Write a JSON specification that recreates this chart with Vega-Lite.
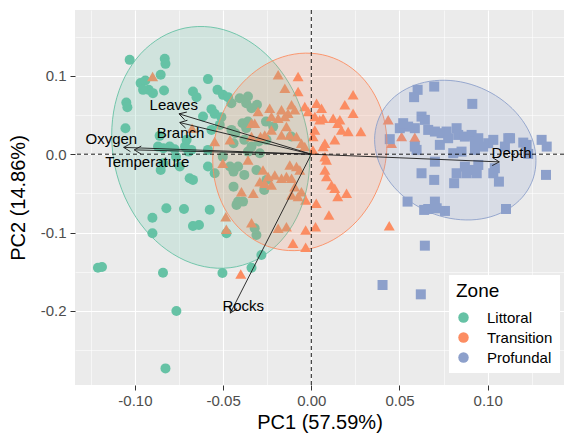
{
  "$schema": "https://vega.github.io/schema/vega-lite/v6.json",
  "width": 489,
  "height": 375,
  "autosize": {"type": "none"},
  "padding": {"left": 75, "top": 10, "right": 0, "bottom": 53},
  "background": "white",
  "config": {
    "font": "Liberation Sans",
    "view": {"fill": "#EBEBEB", "stroke": null},
    "axis": {"domain": false, "tickColor": "#333333", "tickWidth": 1, "labelColor": "#4D4D4D", "labelFontSize": 15, "titleFontSize": 20, "titleFontWeight": "normal", "titleColor": "#000000", "gridColor": "#FFFFFF"}
  },
  "datasets": {
    "points": [
      {"PC1":-0.1030,"PC2":0.1204,"Zone":"Littoral"},{"PC1":-0.0831,"PC2":0.1217,"Zone":"Littoral"},{"PC1":-0.0827,"PC2":0.1153,"Zone":"Littoral"},{"PC1":-0.0854,"PC2":0.1013,"Zone":"Littoral"},{"PC1":-0.0968,"PC2":0.0907,"Zone":"Littoral"},{"PC1":-0.0941,"PC2":0.0940,"Zone":"Littoral"},{"PC1":-0.0922,"PC2":0.0821,"Zone":"Littoral"},{"PC1":-0.0898,"PC2":0.0779,"Zone":"Littoral"},{"PC1":-0.0835,"PC2":0.0812,"Zone":"Littoral"},{"PC1":-0.0586,"PC2":0.0958,"Zone":"Littoral"},
      {"PC1":-0.0532,"PC2":0.0821,"Zone":"Littoral"},{"PC1":-0.0501,"PC2":0.0757,"Zone":"Littoral"},{"PC1":-0.0472,"PC2":0.0728,"Zone":"Littoral"},{"PC1":-0.0453,"PC2":0.0651,"Zone":"Littoral"},{"PC1":-0.0671,"PC2":0.0799,"Zone":"Littoral"},{"PC1":-0.0651,"PC2":0.0728,"Zone":"Littoral"},{"PC1":-0.1049,"PC2":0.0659,"Zone":"Littoral"},{"PC1":-0.1043,"PC2":0.0600,"Zone":"Littoral"},{"PC1":-0.0566,"PC2":0.0575,"Zone":"Littoral"},{"PC1":-0.0548,"PC2":0.0515,"Zone":"Littoral"},
      {"PC1":-0.0510,"PC2":0.0473,"Zone":"Littoral"},{"PC1":-0.0614,"PC2":0.0480,"Zone":"Littoral"},{"PC1":-0.1054,"PC2":0.0332,"Zone":"Littoral"},{"PC1":-0.0519,"PC2":0.0374,"Zone":"Littoral"},{"PC1":-0.0566,"PC2":0.0310,"Zone":"Littoral"},{"PC1":-0.0453,"PC2":0.0310,"Zone":"Littoral"},{"PC1":-0.0860,"PC2":0.0234,"Zone":"Littoral"},{"PC1":-0.0803,"PC2":0.0097,"Zone":"Littoral"},{"PC1":-0.0775,"PC2":0.0064,"Zone":"Littoral"},{"PC1":-0.0680,"PC2":0.0055,"Zone":"Littoral"},
      {"PC1":-0.0586,"PC2":0.0055,"Zone":"Littoral"},{"PC1":-0.0854,"PC2":-0.0201,"Zone":"Littoral"},{"PC1":-0.0746,"PC2":-0.0158,"Zone":"Littoral"},{"PC1":-0.0690,"PC2":-0.0307,"Zone":"Littoral"},{"PC1":-0.0671,"PC2":-0.0328,"Zone":"Littoral"},{"PC1":-0.0586,"PC2":-0.0158,"Zone":"Littoral"},{"PC1":-0.0548,"PC2":-0.0243,"Zone":"Littoral"},{"PC1":-0.0415,"PC2":-0.0158,"Zone":"Littoral"},{"PC1":-0.0822,"PC2":-0.0690,"Zone":"Littoral"},{"PC1":-0.0722,"PC2":-0.0699,"Zone":"Littoral"},
      {"PC1":-0.0576,"PC2":-0.0708,"Zone":"Littoral"},{"PC1":-0.0901,"PC2":-0.0810,"Zone":"Littoral"},{"PC1":-0.0671,"PC2":-0.0916,"Zone":"Littoral"},{"PC1":-0.0637,"PC2":-0.0903,"Zone":"Littoral"},{"PC1":-0.0901,"PC2":-0.1009,"Zone":"Littoral"},{"PC1":-0.0481,"PC2":-0.1009,"Zone":"Littoral"},{"PC1":-0.1210,"PC2":-0.1448,"Zone":"Littoral"},{"PC1":-0.1187,"PC2":-0.1439,"Zone":"Littoral"},{"PC1":-0.0841,"PC2":-0.1512,"Zone":"Littoral"},{"PC1":-0.0504,"PC2":-0.1516,"Zone":"Littoral"},
      {"PC1":-0.0765,"PC2":-0.2001,"Zone":"Littoral"},{"PC1":-0.0827,"PC2":-0.2733,"Zone":"Littoral"},{"PC1":-0.0424,"PC2":-0.0647,"Zone":"Littoral"},{"PC1":-0.0415,"PC2":-0.0605,"Zone":"Littoral"},{"PC1":-0.0387,"PC2":-0.0605,"Zone":"Littoral"},{"PC1":-0.0321,"PC2":-0.0945,"Zone":"Littoral"},{"PC1":-0.0311,"PC2":-0.1031,"Zone":"Littoral"},{"PC1":-0.0283,"PC2":-0.1286,"Zone":"Littoral"},{"PC1":-0.0339,"PC2":-0.1448,"Zone":"Littoral"},{"PC1":-0.0359,"PC2":0.0736,"Zone":"Littoral"},
      {"PC1":-0.0369,"PC2":0.0651,"Zone":"Littoral"},{"PC1":-0.0339,"PC2":0.0587,"Zone":"Littoral"},{"PC1":-0.0308,"PC2":0.0630,"Zone":"Littoral"},{"PC1":-0.0390,"PC2":0.0396,"Zone":"Littoral"},{"PC1":-0.0359,"PC2":0.0416,"Zone":"Littoral"},{"PC1":-0.0369,"PC2":0.0332,"Zone":"Littoral"},{"PC1":-0.0257,"PC2":0.0416,"Zone":"Littoral"},{"PC1":-0.0216,"PC2":0.0352,"Zone":"Littoral"},{"PC1":-0.0431,"PC2":0.0268,"Zone":"Littoral"},{"PC1":-0.0441,"PC2":0.0140,"Zone":"Littoral"},
      {"PC1":-0.0380,"PC2":0.0183,"Zone":"Littoral"},{"PC1":-0.0339,"PC2":0.0097,"Zone":"Littoral"},{"PC1":-0.0298,"PC2":0.0161,"Zone":"Littoral"},{"PC1":-0.0359,"PC2":0.0033,"Zone":"Littoral"},{"PC1":-0.0114,"PC2":0.0225,"Zone":"Littoral"},{"PC1":-0.0502,"PC2":-0.0031,"Zone":"Littoral"},{"PC1":-0.0461,"PC2":-0.0158,"Zone":"Littoral"},{"PC1":-0.0441,"PC2":-0.0222,"Zone":"Littoral"},{"PC1":-0.0380,"PC2":-0.0264,"Zone":"Littoral"},{"PC1":-0.0441,"PC2":-0.0414,"Zone":"Littoral"},
      {"PC1":-0.0267,"PC2":-0.0456,"Zone":"Littoral"},{"PC1":-0.0869,"PC2":0.0097,"Zone":"Littoral"},{"PC1":-0.0839,"PC2":0.0077,"Zone":"Littoral"},{"PC1":-0.0716,"PC2":0.0097,"Zone":"Littoral"},{"PC1":-0.0696,"PC2":0.0033,"Zone":"Littoral"},{"PC1":-0.0839,"PC2":-0.0115,"Zone":"Littoral"},{"PC1":-0.0767,"PC2":-0.0031,"Zone":"Littoral"},{"PC1":-0.0707,"PC2":0.0183,"Zone":"Littoral"},{"PC1":-0.0406,"PC2":0.0715,"Zone":"Littoral"},{"PC1":-0.0254,"PC2":0.0183,"Zone":"Littoral"},
      {"PC1":-0.0292,"PC2":0.0013,"Zone":"Littoral"},{"PC1":-0.0311,"PC2":-0.0201,"Zone":"Littoral"},{"PC1":-0.0254,"PC2":-0.0328,"Zone":"Littoral"},{"PC1":-0.0954,"PC2":0.0821,"Zone":"Littoral"},
      {"PC1":-0.0900,"PC2":0.0991,"Zone":"Transition"},{"PC1":-0.0188,"PC2":0.1013,"Zone":"Transition"},{"PC1":-0.0075,"PC2":0.0991,"Zone":"Transition"},{"PC1":-0.0150,"PC2":0.0843,"Zone":"Transition"},{"PC1":-0.0075,"PC2":0.0799,"Zone":"Transition"},{"PC1":0.0237,"PC2":0.0757,"Zone":"Transition"},{"PC1":0.0030,"PC2":0.0651,"Zone":"Transition"},{"PC1":0.0058,"PC2":0.0587,"Zone":"Transition"},{"PC1":-0.0037,"PC2":0.0608,"Zone":"Transition"},{"PC1":-0.0018,"PC2":0.0544,"Zone":"Transition"},
      {"PC1":-0.0112,"PC2":0.0630,"Zone":"Transition"},{"PC1":-0.0094,"PC2":0.0566,"Zone":"Transition"},{"PC1":-0.0132,"PC2":0.0524,"Zone":"Transition"},{"PC1":-0.0169,"PC2":0.0566,"Zone":"Transition"},{"PC1":-0.0150,"PC2":0.0480,"Zone":"Transition"},{"PC1":-0.0188,"PC2":0.0460,"Zone":"Transition"},{"PC1":-0.0236,"PC2":0.0587,"Zone":"Transition"},{"PC1":-0.0226,"PC2":0.0480,"Zone":"Transition"},{"PC1":-0.0302,"PC2":0.0544,"Zone":"Transition"},{"PC1":-0.0321,"PC2":0.0396,"Zone":"Transition"},
      {"PC1":0.0020,"PC2":0.0480,"Zone":"Transition"},{"PC1":0.0048,"PC2":0.0438,"Zone":"Transition"},{"PC1":0.0067,"PC2":0.0460,"Zone":"Transition"},{"PC1":0.0124,"PC2":0.0460,"Zone":"Transition"},{"PC1":0.0162,"PC2":0.0438,"Zone":"Transition"},{"PC1":0.0237,"PC2":0.0524,"Zone":"Transition"},{"PC1":0.0209,"PC2":0.0289,"Zone":"Transition"},{"PC1":0.0171,"PC2":0.0310,"Zone":"Transition"},{"PC1":0.0133,"PC2":0.0183,"Zone":"Transition"},{"PC1":0.0281,"PC2":0.0289,"Zone":"Transition"},
      {"PC1":0.0077,"PC2":0.0140,"Zone":"Transition"},{"PC1":0.0067,"PC2":0.0097,"Zone":"Transition"},{"PC1":0.0020,"PC2":0.0310,"Zone":"Transition"},{"PC1":0.0010,"PC2":0.0225,"Zone":"Transition"},{"PC1":-0.0141,"PC2":0.0352,"Zone":"Transition"},{"PC1":-0.0122,"PC2":0.0246,"Zone":"Transition"},{"PC1":-0.0169,"PC2":0.0246,"Zone":"Transition"},{"PC1":-0.0084,"PC2":0.0225,"Zone":"Transition"},{"PC1":-0.0264,"PC2":0.0246,"Zone":"Transition"},{"PC1":-0.0226,"PC2":0.0310,"Zone":"Transition"},
      {"PC1":-0.0056,"PC2":0.0140,"Zone":"Transition"},{"PC1":-0.0037,"PC2":0.0097,"Zone":"Transition"},{"PC1":-0.0359,"PC2":-0.0073,"Zone":"Transition"},{"PC1":0.0077,"PC2":-0.0031,"Zone":"Transition"},{"PC1":0.0086,"PC2":-0.0073,"Zone":"Transition"},{"PC1":-0.0122,"PC2":-0.0137,"Zone":"Transition"},{"PC1":-0.0084,"PC2":-0.0158,"Zone":"Transition"},{"PC1":-0.0065,"PC2":-0.0201,"Zone":"Transition"},{"PC1":-0.0274,"PC2":-0.0201,"Zone":"Transition"},{"PC1":-0.0245,"PC2":-0.0286,"Zone":"Transition"},
      {"PC1":-0.0207,"PC2":-0.0264,"Zone":"Transition"},{"PC1":-0.0169,"PC2":-0.0307,"Zone":"Transition"},{"PC1":-0.0141,"PC2":-0.0286,"Zone":"Transition"},{"PC1":-0.0112,"PC2":-0.0307,"Zone":"Transition"},{"PC1":-0.0292,"PC2":-0.0350,"Zone":"Transition"},{"PC1":-0.0264,"PC2":-0.0370,"Zone":"Transition"},{"PC1":-0.0226,"PC2":-0.0392,"Zone":"Transition"},{"PC1":0.0077,"PC2":-0.0201,"Zone":"Transition"},{"PC1":0.0086,"PC2":-0.0286,"Zone":"Transition"},{"PC1":0.0115,"PC2":-0.0392,"Zone":"Transition"},
      {"PC1":0.0133,"PC2":-0.0434,"Zone":"Transition"},{"PC1":0.0200,"PC2":-0.0498,"Zone":"Transition"},{"PC1":-0.0094,"PC2":-0.0414,"Zone":"Transition"},{"PC1":-0.0056,"PC2":-0.0478,"Zone":"Transition"},{"PC1":-0.0112,"PC2":-0.0520,"Zone":"Transition"},{"PC1":-0.0396,"PC2":-0.0478,"Zone":"Transition"},{"PC1":0.0436,"PC2":0.0438,"Zone":"Transition"},{"PC1":0.0455,"PC2":0.0140,"Zone":"Transition"},{"PC1":0.0512,"PC2":0.0225,"Zone":"Transition"},{"PC1":0.0587,"PC2":0.0217,"Zone":"Transition"},
      {"PC1":0.0536,"PC2":0.0387,"Zone":"Transition"},{"PC1":-0.0548,"PC2":0.0161,"Zone":"Transition"},{"PC1":-0.0502,"PC2":-0.0115,"Zone":"Transition"},{"PC1":-0.0485,"PC2":-0.0797,"Zone":"Transition"},{"PC1":-0.0482,"PC2":-0.0958,"Zone":"Transition"},{"PC1":-0.0339,"PC2":-0.0874,"Zone":"Transition"},{"PC1":-0.0329,"PC2":-0.0498,"Zone":"Transition"},{"PC1":-0.0032,"PC2":-0.0584,"Zone":"Transition"},{"PC1":0.0028,"PC2":-0.0626,"Zone":"Transition"},{"PC1":-0.0032,"PC2":-0.0967,"Zone":"Transition"},
      {"PC1":0.0024,"PC2":-0.0925,"Zone":"Transition"},{"PC1":-0.0104,"PC2":-0.1137,"Zone":"Transition"},{"PC1":-0.0032,"PC2":-0.1188,"Zone":"Transition"},{"PC1":0.0100,"PC2":-0.0775,"Zone":"Transition"},{"PC1":0.0150,"PC2":-0.0541,"Zone":"Transition"},{"PC1":-0.0075,"PC2":-0.0541,"Zone":"Transition"},{"PC1":0.0442,"PC2":-0.0912,"Zone":"Transition"},{"PC1":-0.0400,"PC2":-0.1529,"Zone":"Transition"},{"PC1":-0.0188,"PC2":-0.0945,"Zone":"Transition"},{"PC1":-0.0141,"PC2":-0.0925,"Zone":"Transition"},
      {"PC1":0.0009,"PC2":0.0055,"Zone":"Transition"},{"PC1":-0.0676,"PC2":0.0332,"Zone":"Transition"},{"PC1":-0.0339,"PC2":0.0225,"Zone":"Transition"},{"PC1":-0.0288,"PC2":0.0225,"Zone":"Transition"},{"PC1":0.0150,"PC2":0.0396,"Zone":"Transition"},{"PC1":-0.0461,"PC2":0.0183,"Zone":"Transition"},{"PC1":-0.0339,"PC2":0.0396,"Zone":"Transition"},{"PC1":0.0190,"PC2":0.0630,"Zone":"Transition"},
      {"PC1":0.0603,"PC2":0.0821,"Zone":"Profundal"},{"PC1":0.0583,"PC2":0.0728,"Zone":"Profundal"},{"PC1":0.0697,"PC2":0.0863,"Zone":"Profundal"},{"PC1":0.0913,"PC2":0.0642,"Zone":"Profundal"},{"PC1":0.0625,"PC2":0.0480,"Zone":"Profundal"},{"PC1":0.0644,"PC2":0.0438,"Zone":"Profundal"},{"PC1":0.0549,"PC2":0.0352,"Zone":"Profundal"},{"PC1":0.0587,"PC2":0.0332,"Zone":"Profundal"},{"PC1":0.0663,"PC2":0.0310,"Zone":"Profundal"},{"PC1":0.0701,"PC2":0.0289,"Zone":"Profundal"},
      {"PC1":0.0739,"PC2":0.0268,"Zone":"Profundal"},{"PC1":0.0767,"PC2":0.0289,"Zone":"Profundal"},{"PC1":0.0824,"PC2":0.0332,"Zone":"Profundal"},{"PC1":0.0833,"PC2":0.0246,"Zone":"Profundal"},{"PC1":0.0909,"PC2":0.0246,"Zone":"Profundal"},{"PC1":0.0928,"PC2":0.0161,"Zone":"Profundal"},{"PC1":0.0975,"PC2":0.0097,"Zone":"Profundal"},{"PC1":0.1032,"PC2":0.0183,"Zone":"Profundal"},{"PC1":0.1117,"PC2":0.0204,"Zone":"Profundal"},{"PC1":0.1202,"PC2":0.0148,"Zone":"Profundal"},
      {"PC1":0.1221,"PC2":0.0119,"Zone":"Profundal"},{"PC1":0.1306,"PC2":0.0183,"Zone":"Profundal"},{"PC1":0.1335,"PC2":0.0097,"Zone":"Profundal"},{"PC1":0.0729,"PC2":0.0119,"Zone":"Profundal"},{"PC1":0.0852,"PC2":0.0033,"Zone":"Profundal"},{"PC1":0.0928,"PC2":0.0055,"Zone":"Profundal"},{"PC1":0.0597,"PC2":0.0055,"Zone":"Profundal"},{"PC1":0.0701,"PC2":-0.0095,"Zone":"Profundal"},{"PC1":0.1230,"PC2":0.0004,"Zone":"Profundal"},{"PC1":0.0625,"PC2":-0.0243,"Zone":"Profundal"},
      {"PC1":0.0697,"PC2":-0.0328,"Zone":"Profundal"},{"PC1":0.0810,"PC2":-0.0370,"Zone":"Profundal"},{"PC1":0.1041,"PC2":-0.0179,"Zone":"Profundal"},{"PC1":0.1032,"PC2":-0.0243,"Zone":"Profundal"},{"PC1":0.1064,"PC2":-0.0350,"Zone":"Profundal"},{"PC1":0.1331,"PC2":-0.0264,"Zone":"Profundal"},{"PC1":0.0445,"PC2":0.0192,"Zone":"Profundal"},{"PC1":0.0546,"PC2":-0.0605,"Zone":"Profundal"},{"PC1":0.0640,"PC2":-0.0711,"Zone":"Profundal"},{"PC1":0.0663,"PC2":-0.0699,"Zone":"Profundal"},
      {"PC1":0.0701,"PC2":-0.0605,"Zone":"Profundal"},{"PC1":0.0711,"PC2":-0.0690,"Zone":"Profundal"},{"PC1":0.0758,"PC2":-0.0724,"Zone":"Profundal"},{"PC1":0.1104,"PC2":-0.0699,"Zone":"Profundal"},{"PC1":0.0644,"PC2":-0.1167,"Zone":"Profundal"},{"PC1":0.0621,"PC2":-0.1788,"Zone":"Profundal"},{"PC1":0.0404,"PC2":-0.1669,"Zone":"Profundal"},{"PC1":0.0805,"PC2":0.0013,"Zone":"Profundal"},{"PC1":0.0871,"PC2":-0.0158,"Zone":"Profundal"},{"PC1":0.0918,"PC2":-0.0201,"Zone":"Profundal"},
      {"PC1":0.0947,"PC2":-0.0137,"Zone":"Profundal"},{"PC1":0.0824,"PC2":-0.0243,"Zone":"Profundal"},{"PC1":0.0881,"PC2":-0.0243,"Zone":"Profundal"},{"PC1":0.0938,"PC2":-0.0243,"Zone":"Profundal"},{"PC1":0.0776,"PC2":0.0204,"Zone":"Profundal"},{"PC1":0.0871,"PC2":0.0225,"Zone":"Profundal"},{"PC1":0.0947,"PC2":0.0204,"Zone":"Profundal"},{"PC1":0.1003,"PC2":0.0140,"Zone":"Profundal"},{"PC1":0.1098,"PC2":0.0097,"Zone":"Profundal"},{"PC1":0.1127,"PC2":0.0204,"Zone":"Profundal"},
      {"PC1":0.0587,"PC2":0.0097,"Zone":"Profundal"},{"PC1":0.0502,"PC2":0.0332,"Zone":"Profundal"},{"PC1":0.0521,"PC2":0.0396,"Zone":"Profundal"}
    ],
    "ellipses": [
      {"i":0,"PC1":-0.0009,"PC2":-0.0067,"Zone":"Littoral"},{"i":1,"PC1":-0.0028,"PC2":-0.0459,"Zone":"Littoral"},{"i":2,"PC1":-0.0084,"PC2":-0.0814,"Zone":"Littoral"},{"i":3,"PC1":-0.0173,"PC2":-0.1108,"Zone":"Littoral"},{"i":4,"PC1":-0.0289,"PC2":-0.1320,"Zone":"Littoral"},{"i":5,"PC1":-0.0425,"PC2":-0.1436,"Zone":"Littoral"},{"i":6,"PC1":-0.0570,"PC2":-0.1448,"Zone":"Littoral"},{"i":7,"PC1":-0.0716,"PC2":-0.1356,"Zone":"Littoral"},{"i":8,"PC1":-0.0851,"PC2":-0.1166,"Zone":"Littoral"},{"i":9,"PC1":-0.0968,"PC2":-0.0890,"Zone":"Littoral"},{"i":10,"PC1":-0.1057,"PC2":-0.0547,"Zone":"Littoral"},{"i":11,"PC1":-0.1113,"PC2":-0.0162,"Zone":"Littoral"},
      {"i":12,"PC1":-0.1132,"PC2":0.0241,"Zone":"Littoral"},{"i":13,"PC1":-0.1113,"PC2":0.0633,"Zone":"Littoral"},{"i":14,"PC1":-0.1057,"PC2":0.0988,"Zone":"Littoral"},{"i":15,"PC1":-0.0968,"PC2":0.1281,"Zone":"Littoral"},{"i":16,"PC1":-0.0851,"PC2":0.1493,"Zone":"Littoral"},{"i":17,"PC1":-0.0716,"PC2":0.1610,"Zone":"Littoral"},{"i":18,"PC1":-0.0570,"PC2":0.1622,"Zone":"Littoral"},{"i":19,"PC1":-0.0425,"PC2":0.1530,"Zone":"Littoral"},{"i":20,"PC1":-0.0289,"PC2":0.1339,"Zone":"Littoral"},{"i":21,"PC1":-0.0173,"PC2":0.1063,"Zone":"Littoral"},{"i":22,"PC1":-0.0084,"PC2":0.0721,"Zone":"Littoral"},{"i":23,"PC1":-0.0028,"PC2":0.0335,"Zone":"Littoral"},
      {"i":0,"PC1":0.0429,"PC2":0.0130,"Zone":"Transition"},{"i":1,"PC1":0.0412,"PC2":-0.0199,"Zone":"Transition"},{"i":2,"PC1":0.0362,"PC2":-0.0512,"Zone":"Transition"},{"i":3,"PC1":0.0284,"PC2":-0.0788,"Zone":"Transition"},{"i":4,"PC1":0.0182,"PC2":-0.1008,"Zone":"Transition"},{"i":5,"PC1":0.0063,"PC2":-0.1158,"Zone":"Transition"},{"i":6,"PC1":-0.0065,"PC2":-0.1227,"Zone":"Transition"},{"i":7,"PC1":-0.0193,"PC2":-0.1210,"Zone":"Transition"},{"i":8,"PC1":-0.0312,"PC2":-0.1109,"Zone":"Transition"},{"i":9,"PC1":-0.0415,"PC2":-0.0930,"Zone":"Transition"},{"i":10,"PC1":-0.0493,"PC2":-0.0686,"Zone":"Transition"},{"i":11,"PC1":-0.0542,"PC2":-0.0393,"Zone":"Transition"},
      {"i":12,"PC1":-0.0559,"PC2":-0.0071,"Zone":"Transition"},{"i":13,"PC1":-0.0542,"PC2":0.0257,"Zone":"Transition"},{"i":14,"PC1":-0.0493,"PC2":0.0571,"Zone":"Transition"},{"i":15,"PC1":-0.0415,"PC2":0.0847,"Zone":"Transition"},{"i":16,"PC1":-0.0312,"PC2":0.1067,"Zone":"Transition"},{"i":17,"PC1":-0.0193,"PC2":0.1217,"Zone":"Transition"},{"i":18,"PC1":-0.0065,"PC2":0.1286,"Zone":"Transition"},{"i":19,"PC1":0.0063,"PC2":0.1269,"Zone":"Transition"},{"i":20,"PC1":0.0182,"PC2":0.1168,"Zone":"Transition"},{"i":21,"PC1":0.0284,"PC2":0.0989,"Zone":"Transition"},{"i":22,"PC1":0.0362,"PC2":0.0745,"Zone":"Transition"},{"i":23,"PC1":0.0412,"PC2":0.0452,"Zone":"Transition"},
      {"i":0,"PC1":0.1274,"PC2":-0.0081,"Zone":"Profundal"},{"i":1,"PC1":0.1259,"PC2":-0.0304,"Zone":"Profundal"},{"i":2,"PC1":0.1213,"PC2":-0.0504,"Zone":"Profundal"},{"i":3,"PC1":0.1140,"PC2":-0.0665,"Zone":"Profundal"},{"i":4,"PC1":0.1045,"PC2":-0.0778,"Zone":"Profundal"},{"i":5,"PC1":0.0935,"PC2":-0.0834,"Zone":"Profundal"},{"i":6,"PC1":0.0817,"PC2":-0.0829,"Zone":"Profundal"},{"i":7,"PC1":0.0698,"PC2":-0.0765,"Zone":"Profundal"},{"i":8,"PC1":0.0588,"PC2":-0.0644,"Zone":"Profundal"},{"i":9,"PC1":0.0493,"PC2":-0.0477,"Zone":"Profundal"},{"i":10,"PC1":0.0421,"PC2":-0.0273,"Zone":"Profundal"},{"i":11,"PC1":0.0375,"PC2":-0.0047,"Zone":"Profundal"},
      {"i":12,"PC1":0.0359,"PC2":0.0186,"Zone":"Profundal"},{"i":13,"PC1":0.0375,"PC2":0.0409,"Zone":"Profundal"},{"i":14,"PC1":0.0421,"PC2":0.0609,"Zone":"Profundal"},{"i":15,"PC1":0.0493,"PC2":0.0770,"Zone":"Profundal"},{"i":16,"PC1":0.0588,"PC2":0.0882,"Zone":"Profundal"},{"i":17,"PC1":0.0698,"PC2":0.0938,"Zone":"Profundal"},{"i":18,"PC1":0.0817,"PC2":0.0934,"Zone":"Profundal"},{"i":19,"PC1":0.0935,"PC2":0.0869,"Zone":"Profundal"},{"i":20,"PC1":0.1045,"PC2":0.0749,"Zone":"Profundal"},{"i":21,"PC1":0.1140,"PC2":0.0581,"Zone":"Profundal"},{"i":22,"PC1":0.1213,"PC2":0.0378,"Zone":"Profundal"},{"i":23,"PC1":0.1259,"PC2":0.0152,"Zone":"Profundal"}
    ],
    "loadings": [
      {"variable":"Leaves","startPC1":0,"startPC2":0,"PC1":-0.0750,"PC2":0.0515,"labelPC1":-0.0780,"labelPC2":0.0630},
      {"variable":"Branch","startPC1":0,"startPC2":0,"PC1":-0.0746,"PC2":0.0404,"labelPC1":-0.0741,"labelPC2":0.0268},
      {"variable":"Oxygen","startPC1":0,"startPC2":0,"PC1":-0.1064,"PC2":0.0087,"labelPC1":-0.1134,"labelPC2":0.0192},
      {"variable":"Temperature","startPC1":0,"startPC2":0,"PC1":-0.1004,"PC2":0.0055,"labelPC1":-0.0930,"labelPC2":-0.0095},
      {"variable":"Depth","startPC1":0,"startPC2":0,"PC1":0.1066,"PC2":-0.0098,"labelPC1":0.1136,"labelPC2":0.0013},
      {"variable":"Rocks","startPC1":0,"startPC2":0,"PC1":-0.0459,"PC2":-0.2027,"labelPC1":-0.0386,"labelPC2":-0.1934}
    ],
    "origin": [{"PC1": 0, "PC2": 0}]
  },
  "layer": [
    {
      "data": {"name": "points"},
      "mark": {"type": "point", "filled": true, "opacity": 1, "size": 100},
      "encoding": {
        "x": {"field": "PC1", "type": "quantitative", "title": "PC1 (57.59%)",
          "scale": {"domain": [-0.134, 0.1433], "nice": false, "zero": false},
          "axis": {"values": [-0.125,-0.1,-0.075,-0.05,-0.025,0,0.025,0.05,0.075,0.1,0.125],
            "labelExpr": "abs(datum.value*20-round(datum.value*20))<0.001 ? replace(format(datum.value,'.2f'),'\u2212','-') : ''",
            "gridWidth": {"condition": {"test": "abs(datum.value*20-round(datum.value*20))<0.001", "value": 1.1}, "value": 0.55},
            "tickOpacity": {"condition": {"test": "abs(datum.value*20-round(datum.value*20))<0.001", "value": 1}, "value": 0},
            "tickSize": 5, "labelPadding": 3, "titlePadding": 4, "labelOverlap": false}},
        "y": {"field": "PC2", "type": "quantitative", "title": "PC2 (14.86%)",
          "scale": {"domain": [-0.2945, 0.184], "nice": false, "zero": false},
          "axis": {"values": [0.15,0.1,0.05,0,-0.05,-0.1,-0.15,-0.2,-0.25],
            "labelExpr": "abs(datum.value*10-round(datum.value*10))<0.001 ? replace(format(datum.value,'.1f'),'\u2212','-') : ''",
            "gridWidth": {"condition": {"test": "abs(datum.value*10-round(datum.value*10))<0.001", "value": 1.1}, "value": 0.55},
            "tickOpacity": {"condition": {"test": "abs(datum.value*10-round(datum.value*10))<0.001", "value": 1}, "value": 0},
            "tickSize": 5, "labelPadding": 4, "titlePadding": 12, "labelOverlap": false}},
        "color": {"field": "Zone", "type": "nominal", "sort": ["Littoral","Transition","Profundal"],
          "scale": {"range": ["#66C2A5","#FC8D62","#8DA0CB"]},
          "legend": {"orient": "none", "legendX": 374, "legendY": 265, "title": "Zone", "titleFontSize": 19, "titleFontWeight": "normal", "titleColor": "#000000", "labelColor": "#000000", "labelFontSize": 15, "symbolType": "circle", "symbolSize": 110, "symbolStrokeWidth": 0, "fillColor": "#FFFFFF", "padding": 7, "rowPadding": 4, "labelOffset": 16, "titlePadding": 9}},
        "shape": {"field": "Zone", "type": "nominal", "sort": ["Littoral","Transition","Profundal"],
          "scale": {"range": ["circle","M0,-0.95L1.1,0.95L-1.1,0.95Z","square"]},
          "legend": null}
      }
    },
    {
      "data": {"name": "ellipses"},
      "mark": {"type": "line", "interpolate": "cardinal-closed", "fillOpacity": 0.2, "strokeWidth": 0.9},
      "encoding": {
        "x": {"field": "PC1", "type": "quantitative", "title": "PC1 (57.59%)", "scale": {"domain": [-0.134, 0.1433], "nice": false, "zero": false}},
        "y": {"field": "PC2", "type": "quantitative", "title": "PC2 (14.86%)", "scale": {"domain": [-0.2945, 0.184], "nice": false, "zero": false}},
        "order": {"field": "i", "type": "quantitative"},
        "fill": {"field": "Zone", "type": "nominal", "sort": ["Littoral","Transition","Profundal"],
          "scale": {"range": ["#66C2A5","#FC8D62","#8DA0CB"]}, "legend": null},
        "stroke": {"field": "Zone", "type": "nominal", "sort": ["Littoral","Transition","Profundal"],
          "scale": {"range": ["#66C2A5","#FC8D62","#8DA0CB"]}, "legend": null}
      }
    },
    {
      "data": {"name": "origin"},
      "mark": {"type": "rule", "color": "#000000", "strokeDash": [4, 3], "strokeWidth": 0.9},
      "encoding": {"x": {"field": "PC1", "type": "quantitative", "title": "PC1 (57.59%)", "scale": {"domain": [-0.134, 0.1433], "nice": false, "zero": false}}}
    },
    {
      "data": {"name": "origin"},
      "mark": {"type": "rule", "color": "#000000", "strokeDash": [4, 3], "strokeWidth": 0.9},
      "encoding": {"y": {"field": "PC2", "type": "quantitative", "title": "PC2 (14.86%)", "scale": {"domain": [-0.2945, 0.184], "nice": false, "zero": false}}}
    },
    {
      "data": {"name": "loadings"},
      "mark": {"type": "rule", "color": "#1a1a1a", "strokeWidth": 0.9},
      "encoding": {
        "x": {"field": "startPC1", "type": "quantitative", "title": "PC1 (57.59%)", "scale": {"domain": [-0.134, 0.1433], "nice": false, "zero": false}},
        "y": {"field": "startPC2", "type": "quantitative", "title": "PC2 (14.86%)", "scale": {"domain": [-0.2945, 0.184], "nice": false, "zero": false}},
        "x2": {"field": "PC1"},
        "y2": {"field": "PC2"}
      }
    },
    {
      "data": {"name": "loadings"},
      "transform": [{"calculate": "atan2(datum.PC1*1762, datum.PC2*783)*180/PI", "as": "heading"}],
      "mark": {"type": "point", "shape": "M-0.5,0.866L0,0L0.5,0.866", "size": 256, "filled": false, "stroke": "#1a1a1a", "strokeWidth": 0.9, "opacity": 1},
      "encoding": {
        "x": {"field": "PC1", "type": "quantitative", "title": "PC1 (57.59%)", "scale": {"domain": [-0.134, 0.1433], "nice": false, "zero": false}},
        "y": {"field": "PC2", "type": "quantitative", "title": "PC2 (14.86%)", "scale": {"domain": [-0.2945, 0.184], "nice": false, "zero": false}},
        "angle": {"field": "heading", "type": "quantitative", "scale": null}
      }
    },
    {
      "data": {"name": "loadings"},
      "mark": {"type": "text", "fontSize": 15, "color": "#000000", "align": "center", "baseline": "middle"},
      "encoding": {
        "x": {"field": "labelPC1", "type": "quantitative", "title": "PC1 (57.59%)", "scale": {"domain": [-0.134, 0.1433], "nice": false, "zero": false}},
        "y": {"field": "labelPC2", "type": "quantitative", "title": "PC2 (14.86%)", "scale": {"domain": [-0.2945, 0.184], "nice": false, "zero": false}},
        "text": {"field": "variable", "type": "nominal"}
      }
    }
  ]
}
